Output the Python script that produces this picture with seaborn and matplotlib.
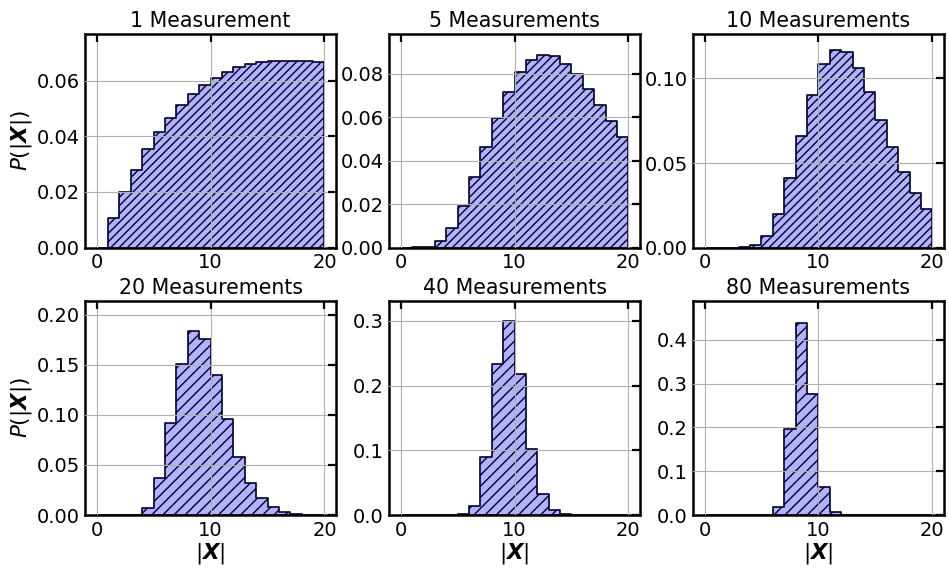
import numpy as np
import pandas as pd
import matplotlib
matplotlib.use("Agg")
import matplotlib.pyplot as plt
from matplotlib.ticker import MultipleLocator
import seaborn as sns

# histogram bins |X| = 0..20, width 1
bin_edges = np.arange(0, 21, 1)
bin_centres = bin_edges[:-1] + 0.5

titles = ["1 Measurement", "5 Measurements", "10 Measurements",
          "20 Measurements", "40 Measurements", "80 Measurements"]

# probability per bin
p_1 = [0, 0.0106, 0.0199, 0.0280, 0.0355, 0.0416, 0.0467, 0.0513, 0.0552, 0.0584,
       0.0611, 0.0630, 0.0647, 0.0659, 0.0666, 0.0671, 0.0672, 0.0671, 0.0669, 0.0665]
p_5 = [0, 0.0001, 0.0005, 0.0031, 0.0092, 0.0194, 0.0323, 0.0462, 0.0597, 0.0715,
       0.0808, 0.0865, 0.0888, 0.0883, 0.0846, 0.0797, 0.0729, 0.0658, 0.0582, 0.0508]
p_10 = [0, 0, 0, 0.0002, 0.0016, 0.0071, 0.0200, 0.0409, 0.0660, 0.0903,
        0.1085, 0.1166, 0.1156, 0.1063, 0.0921, 0.0757, 0.0593, 0.0449, 0.0324, 0.0227]
p_20 = [0, 0, 0, 0.0005, 0.0073, 0.0365, 0.0920, 0.1510, 0.1837, 0.1760,
        0.1395, 0.0957, 0.0581, 0.0316, 0.0166, 0.0083, 0.0030, 0.0013, 0.0005, 0.0001]
p_40 = [0, 0, 0, 0, 0, 0.0008, 0.0133, 0.0892, 0.2338, 0.3000,
        0.2185, 0.1020, 0.0323, 0.0077, 0.0015, 0.0003, 0, 0, 0, 0]
p_80 = [0, 0, 0, 0, 0, 0, 0.0175, 0.1960, 0.4390, 0.2770,
        0.0646, 0.0060, 0.0003, 0, 0, 0, 0, 0, 0, 0]

y_tops = [0.0769, 0.0985, 0.1265, 0.214, 0.331, 0.489]
y_steps = [0.02, 0.02, 0.05, 0.05, 0.1, 0.1]
hatches = ["////", "////", "////", "///", "///", "///"]

sns.set_style("white")
plt.rcParams["font.family"] = ["DejaVu Sans"]
plt.rcParams["mathtext.fontset"] = "dejavusans"
plt.rcParams["hatch.linewidth"] = 1.0
for k in ["text.color", "axes.labelcolor", "xtick.color", "ytick.color"]:
    plt.rcParams[k] = "black"

fig, axes = plt.subplots(2, 3, figsize=(9.49, 5.68), dpi=100)
fig.subplots_adjust(left=0.0899, right=0.9944, top=0.941, bottom=0.0933,
                    wspace=0.213, hspace=0.248)

panels = [p_1, p_5, p_10, p_20, p_40, p_80]
for i, ax in enumerate(axes.flat):
    df = pd.DataFrame({"x": bin_centres, "p": panels[i]})
    sns.histplot(data=df, x="x", weights="p", binwidth=1, binrange=(0, 20), stat="count",
                 element="step", fill=True, facecolor=(0, 0, 1, 0.3),
                 edgecolor="#000028", linewidth=1.2, hatch=hatches[i], ax=ax)

    ax.set_xlim(-1, 21)
    ax.set_ylim(0, y_tops[i])
    ax.set_xticks([0, 10, 20])
    ax.yaxis.set_major_locator(MultipleLocator(y_steps[i]))
    ax.grid(True, color="#b0b0b0", linewidth=0.8)
    ax.set_axisbelow(False)
    ax.tick_params(direction="in", length=6, width=1.6, top=True, right=True,
                   labelsize=14, pad=4)
    for s in ax.spines.values():
        s.set_linewidth(1.8)
        s.set_color("black")

    ax.set_title(titles[i], fontsize=14.8, pad=5)
    ax.set_xlabel(r"$|\boldsymbol{X}|$" if i >= 3 else "", fontsize=15.5, labelpad=1)
    ax.set_ylabel(r"$P(|\boldsymbol{X}|)$" if i % 3 == 0 else "", fontsize=15.5, labelpad=2)

fig.savefig("out.png", dpi=100)
